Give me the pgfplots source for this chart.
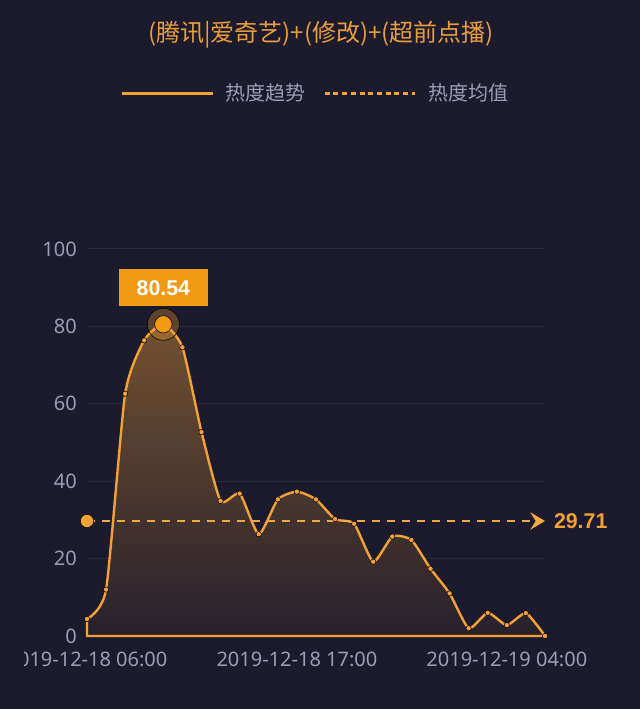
\documentclass[border=0pt]{standalone}
\usepackage{pgfplots}
\pgfplotsset{compat=1.18}
\usepackage{pgfplotstable}
\usepackage{fontspec}
\setmainfont{Noto Sans}
\newfontfamily\cjk{Noto Sans CJK SC}
\newfontfamily\numbold{Liberation Sans}
\usetikzlibrary{arrows.meta}
\definecolor{bg}{HTML}{1C1A2D}
\definecolor{lineorange}{HTML}{F2A233}
\definecolor{titleorange}{HTML}{E89E3A}
\definecolor{boxorange}{HTML}{F39A14}
\definecolor{ticktext}{HTML}{9C9CB4}
\definecolor{gridc}{HTML}{2A283D}

\pgfplotstableread{
h v
0 4.4
1 12.0
2 62.6
3 76.4
4 80.54
5 74.6
6 52.7
7 34.9
8 36.8
9 26.3
10 35.3
11 37.3
12 35.3
13 30.2
14 29.0
15 19.2
16 25.7
17 24.8
18 17.4
19 11.0
20 2.0
21 6.0
22 2.8
23 5.9
24 0
}\heat

\begin{document}
\begin{tikzpicture}
\fill[bg] (-65.25pt,-54.75pt) rectangle (414.75pt,477pt);
\useasboundingbox (-65.25pt,-54.75pt) rectangle (414.75pt,477pt);
\begin{scope}
\clip (-46.5pt,-54.75pt) rectangle (414.75pt,477pt);
\begin{axis}[
  at={(0pt,0pt)}, anchor=south west,
  scale only axis, width=343.5pt, height=290.25pt,
  xmin=0, xmax=24, ymin=0, ymax=100,
  clip=false,
  axis line style={draw=none},
  major tick length=0pt, tick style={draw=none},
  ytick={0,20,40,60,80,100},
  ymajorgrids, grid style={color=gridc, line width=0.75pt},
  xtick={0,11,22},
  xticklabels={2019-12-18 06:00, 2019-12-18 17:00, 2019-12-19 04:00},
  /pgf/number format/assume math mode=true,
  tick label style={font=\fontsize{15}{18}\selectfont, text=ticktext, inner sep=0pt},
  yticklabel style={anchor=east, xshift=-7.5pt},
  xticklabel style={anchor=north, yshift=-12pt},
  title={\cjk (腾讯|爱奇艺)+(修改)+(超前点播)},
  title style={at={(0.511,1.532)}, anchor=center, font=\fontsize{18}{21}\selectfont, text=titleorange, inner sep=0pt},
  legend style={at={(0.500,1.403)}, anchor=center, draw=none, fill=none,
    legend columns=2, font=\cjk\fontsize{15}{18}\selectfont, text=ticktext,
    /tikz/every even column/.append style={column sep=11pt}},
  legend image code/.code={\draw[#1] (0pt,0pt) -- (67.5pt,0pt);},
]
\addlegendimage{lineorange, line width=2.25pt}
\addlegendentry{\hspace{7pt}热度趋势}
\addlegendimage{lineorange, line width=2.25pt, dash pattern=on 3.75pt off 2.75pt}
\addlegendentry{\hspace{7pt}热度均值}

% area + line
\addplot[forget plot, draw=lineorange, line width=1.8pt, smooth, tension=0.35,
  top color=lineorange!40!bg, bottom color=lineorange!5!bg]
  table[x=h, y=v] {\heat} \closedcycle;
% data dots
\addplot[forget plot, only marks, mark=*, mark size=2pt,
  mark options={fill=lineorange, draw=none}]
  table[x=h, y=v] {\heat};

% mean line
\addplot[forget plot, lineorange!92!white, line width=1.5pt, dash pattern=on 6pt off 5.25pt,
  -{Stealth[length=11pt, width=13pt, inset=4pt]}]
  coordinates {(0,29.71) (24,29.71)}
  node[pos=1, anchor=west, xshift=6pt, inner sep=0pt, text=lineorange,
       font=\numbold\bfseries\fontsize{16}{18}\selectfont] {29.71};
\addplot[forget plot, only marks, mark=*, mark size=5pt,
  mark options={fill=lineorange, draw=none}]
  coordinates {(0,29.71)};

% peak glow and marker
\addplot[forget plot, only marks, mark=*, mark size=12pt,
  mark options={fill=lineorange, fill opacity=0.3, draw=none}]
  coordinates {(4,80.54)};
\addplot[forget plot, only marks, mark=*, mark size=6.5pt,
  mark options={fill=boxorange, draw=none},
  nodes near coords={80.54},
  every node near coord/.style={anchor=south, yshift=13.3pt, fill=boxorange,
    text=white, font=\numbold\bfseries\fontsize{16}{18}\selectfont,
    minimum width=66.75pt, minimum height=27.75pt, inner sep=0pt}]
  coordinates {(4,80.54)};
\end{axis}
\end{scope}
\end{tikzpicture}
\end{document}
